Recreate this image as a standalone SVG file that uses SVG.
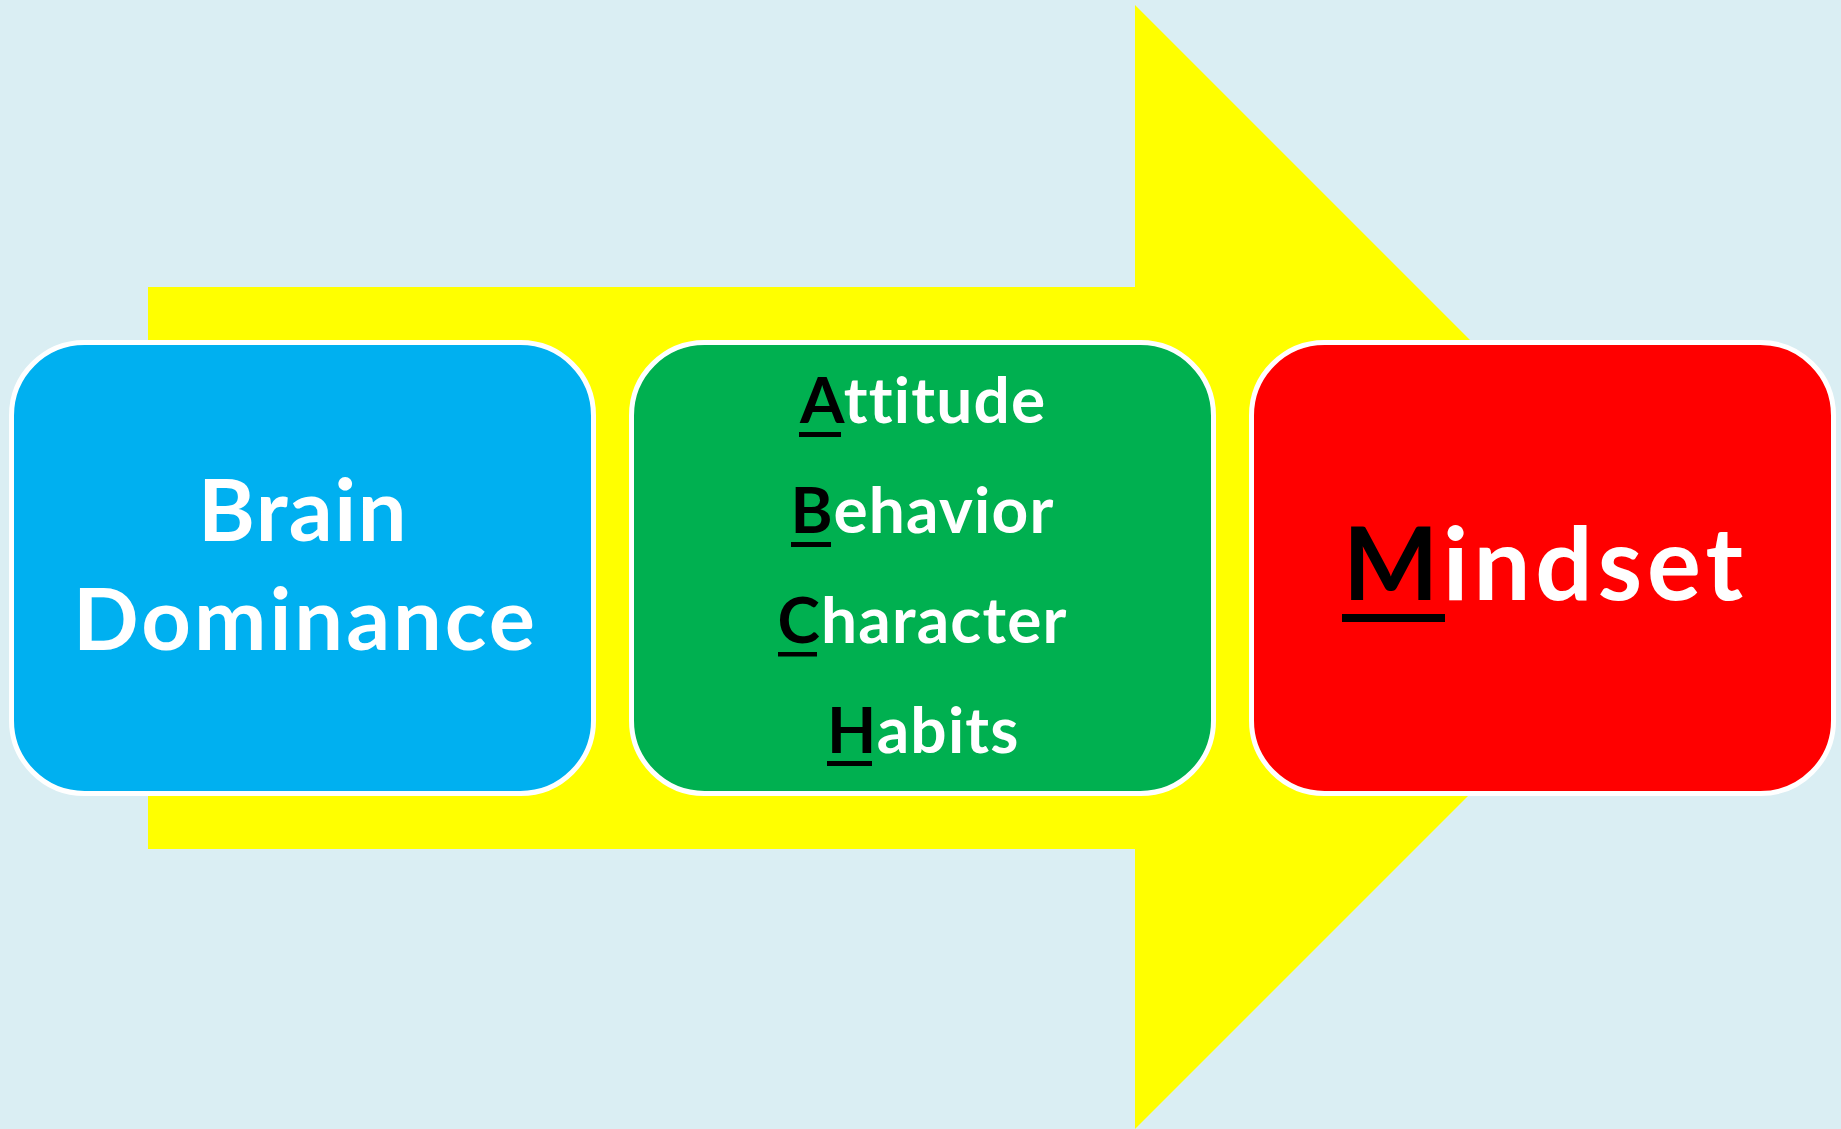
<svg xmlns="http://www.w3.org/2000/svg" width="1841" height="1129" viewBox="0 0 1841 1129">
<style>
.box{stroke:#FFFFFF;stroke-width:5}
.t{font-family:Lato,"Open Sans","Liberation Sans",sans-serif;font-weight:bold;font-variant-ligatures:none;font-feature-settings:"liga" 0,"clig" 0}
.m{text-anchor:middle}
.w{fill:#FFFFFF}
.k{fill:#000000}
.ul{fill:#000000}
</style>
<rect x="0" y="0" width="1841" height="1129" fill="#DAEEF3"/>
<g id="connectors">
<polygon id="big-arrow" points="148,287 1135,287 1135,5 1697,567 1135,1129 1135,849 148,849" fill="#FFFF00"/>
</g>
<g id="brain-dominance">
<rect class="box" x="11.5" y="342.5" width="582" height="451" rx="73" ry="73" fill="#00B0F0"/>
<text class="t m w" x="303" y="541" font-size="86.5" letter-spacing="1.5">Brain</text>
<text class="t m w" x="305.5" y="650" font-size="86.5" letter-spacing="3">Dominance</text>
</g>
<g id="abch">
<rect class="box" x="631.5" y="342.5" width="582" height="451" rx="73" ry="73" fill="#00B050"/>
<text class="t" x="800" y="423" font-size="64" letter-spacing="1.2"><tspan class="k">A</tspan><tspan class="w">ttitude</tspan></text>
<rect class="ul" x="799" y="432" width="42" height="5"/>
<text class="t" x="790.5" y="533" font-size="64" letter-spacing="1.2"><tspan class="k">B</tspan><tspan class="w">ehavior</tspan></text>
<rect class="ul" x="791" y="542" width="40" height="5"/>
<text class="t" x="777.5" y="643" font-size="64" letter-spacing="1.2"><tspan class="k">C</tspan><tspan class="w">haracter</tspan></text>
<rect class="ul" x="778" y="652" width="39" height="4.5"/>
<text class="t" x="827" y="753" font-size="64" letter-spacing="1.2"><tspan class="k">H</tspan><tspan class="w">abits</tspan></text>
<rect class="ul" x="827" y="761" width="45" height="5"/>
</g>
<g id="mindset">
<rect class="box" x="1251.5" y="342.5" width="582" height="451" rx="73" ry="73" fill="#FF0000"/>
<text class="t" x="1343" y="600" font-size="101" letter-spacing="5"><tspan class="k">M</tspan><tspan class="w">indset</tspan></text>
<rect class="ul" x="1342" y="614" width="103" height="8"/>
</g>
</svg>
